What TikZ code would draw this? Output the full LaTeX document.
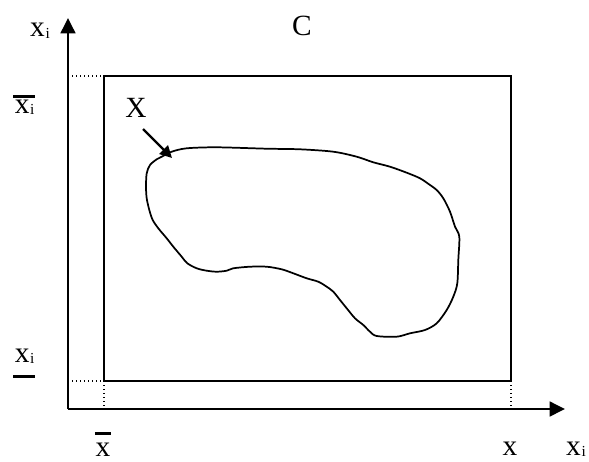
\documentclass[tikz,border=0pt]{standalone}
\usepackage{fontspec}
\setmainfont{Liberation Serif}
\usetikzlibrary{arrows.meta,calc}
\newcommand{\sub}{\kern0.5pt\raisebox{-1.2pt}{\fontsize{11.5pt}{12pt}\selectfont i}}
\begin{document}
\begin{tikzpicture}[x=0.75pt,y=-0.75pt,
  lbl/.style={inner sep=0pt,anchor=base,font=\fontsize{22pt}{24pt}\selectfont},
  axis/.style={line width=1.9pt,-{Triangle[length=11.5pt,width=11pt]}},
  frame/.style={line width=1.4pt},
  guide/.style={line width=1pt,dotted},
  blob/.style={line width=1.3pt},
  bar/.style={line width=1.7pt},
  ptr/.style={line width=1.8pt,-{Triangle[length=9pt,width=9pt]}}]
\useasboundingbox (0,0) rectangle (589,461);
% axes
\coordinate (O) at (68,409);
\coordinate (ytip) at (68,18);
\coordinate (xtip) at (565,409);
\draw[axis] (O) -- (ytip);
\draw[axis] (O) -- (xtip);
% box C
\coordinate (TL) at (104,76);
\coordinate (BR) at (511,381);
\draw[frame] (TL) rectangle (BR);
% dotted guides
\coordinate (yT) at (68,76);
\coordinate (yB) at (68,381);
\coordinate (BL) at (104,381);
\coordinate (xL) at (104,409);
\coordinate (xR) at (511,409);
\draw[guide] (yT) -- (TL);
\draw[guide] (yB) -- (BL);
\draw[guide] (BL) -- (xL);
\draw[guide] (BR) -- (xR);
% blob X
\draw[blob] plot[smooth cycle,tension=0.5] coordinates {
(161.7,156.7) (171.7,151.7) (186.7,148.3) (216.7,147.3) (266.7,148.7) (300,149.3)
(333.3,151.7) (356.7,156.7) (373.3,162.3) (390,166.7) (406.7,172.7) (420,178.3)
(430,185) (436.7,190) (443.3,198.3) (450,211.7) (455,226.7) (459.3,236.7)
(458.3,260) (457.3,283.3) (453.3,296.7) (446.7,310) (436.7,323.3) (425,330)
(410,333.3) (396.7,336.7) (376.7,336) (370,331.7) (363.3,325) (355,318.3)
(346.7,308.3) (340,300) (333.3,291.7) (326.7,286.7) (318.3,281.7) (306.7,278.3)
(293.3,273.3) (281.7,269.3) (266.7,266.7) (250,266.7) (233.3,268.3) (226.7,270.7)
(216.7,271.7) (206.7,270.7) (196.7,268.3) (187.3,263.3) (181.7,256.7) (173.3,246.7)
(166.7,238.3) (158.3,228.3) (152.7,220) (149.3,210) (146.7,198.3) (146,186.7)
(146.7,173.3) (150,165) (156.7,159.3)};
% labels
\node[lbl] (lxi) at (40,36.5) {x\sub};
\node[lbl] (lC) at (302,35) {C};
\node[lbl] (lX) at (136,117) {X};
\node[lbl,anchor=base west] (lxib) at (14.5,113) {x\sub};
\node[lbl,anchor=base west] (lxiu) at (14.5,362) {x\sub};
\node[lbl] (lxbar) at (103,456) {x};
\node[lbl] (lx) at (510,455) {x};
\node[lbl] (lxi2) at (576,455) {x\sub};
% over/under bars
\draw[bar] ($(lxib.base west)+(-1.5,-16.5)$) -- ($(lxib.base east)+(0.5,-16.5)$);
\draw[bar] ($(lxiu.base west)+(-1.5,14.5)$) -- ($(lxiu.base east)+(0.5,14.5)$);
\draw[bar] ($(lxbar.base west)+(-0.5,-22.5)$) -- ($(lxbar.base east)+(0.5,-22.5)$);
% pointer
\coordinate (pS) at (143,129);
\coordinate (pT) at (172,158);
\draw[ptr] (pS) -- (pT);
\end{tikzpicture}
\end{document}
